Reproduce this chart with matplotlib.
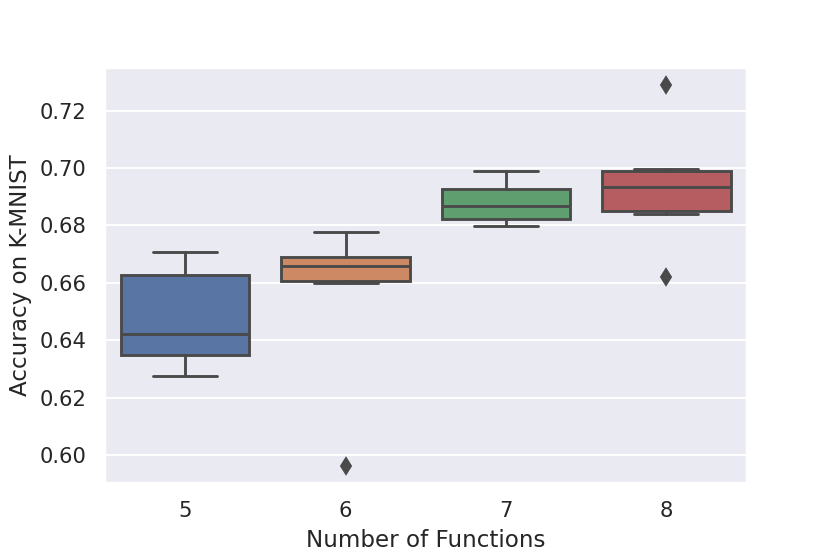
import matplotlib
matplotlib.use("Agg")
import matplotlib.pyplot as plt
import seaborn as sns

# accuracy per run, grouped by number of functions
n_functions = ["5", "6", "7", "8"]
acc_5 = [0.6274, 0.6349, 0.6423, 0.6627, 0.6707]
acc_6 = [0.5963, 0.6598, 0.6634, 0.6684, 0.6693, 0.6778]
acc_7 = [0.6798, 0.6823, 0.6868, 0.6927, 0.6991]
acc_8 = [0.6619, 0.6838, 0.6860, 0.6935, 0.6985, 0.6995, 0.7289]
y_ticks = [0.60, 0.62, 0.64, 0.66, 0.68, 0.70, 0.72]

sns.set_theme(style="darkgrid")
plt.rcParams['font.family'] = ['DejaVu Sans']

fig, ax = plt.subplots(figsize=(6, 4.005), dpi=138.33)
fig.subplots_adjust(left=0.1265, right=0.8995, top=0.878, bottom=0.128)

line_col = "#4a4a4a"
palette = [sns.desaturate(c, 0.75) for c in sns.color_palette("deep", 4)]

bp = ax.boxplot([acc_5, acc_6, acc_7, acc_8], positions=range(4), widths=0.8,
                patch_artist=True, whis=1.5,
                boxprops=dict(edgecolor=line_col, linewidth=1.5),
                medianprops=dict(color=line_col, linewidth=1.5),
                whiskerprops=dict(color=line_col, linewidth=1.5),
                capprops=dict(color=line_col, linewidth=1.5),
                flierprops=dict(marker="d", markerfacecolor=line_col,
                                markeredgecolor=line_col, markersize=6))
for patch, c in zip(bp['boxes'], palette):
    patch.set_facecolor(c)

ax.xaxis.grid(False)
ax.set_xticks(range(4))
ax.set_xticklabels(n_functions)
ax.set_xlim(-0.5, 3.5)
ax.set_ylim(0.5902, 0.7350)
ax.set_yticks(y_ticks)
ax.set_yticklabels([f"{t:.2f}" for t in y_ticks])
ax.set_xlabel("Number of Functions")
ax.set_ylabel("Accuracy on K-MNIST")

fig.savefig("out.png")
